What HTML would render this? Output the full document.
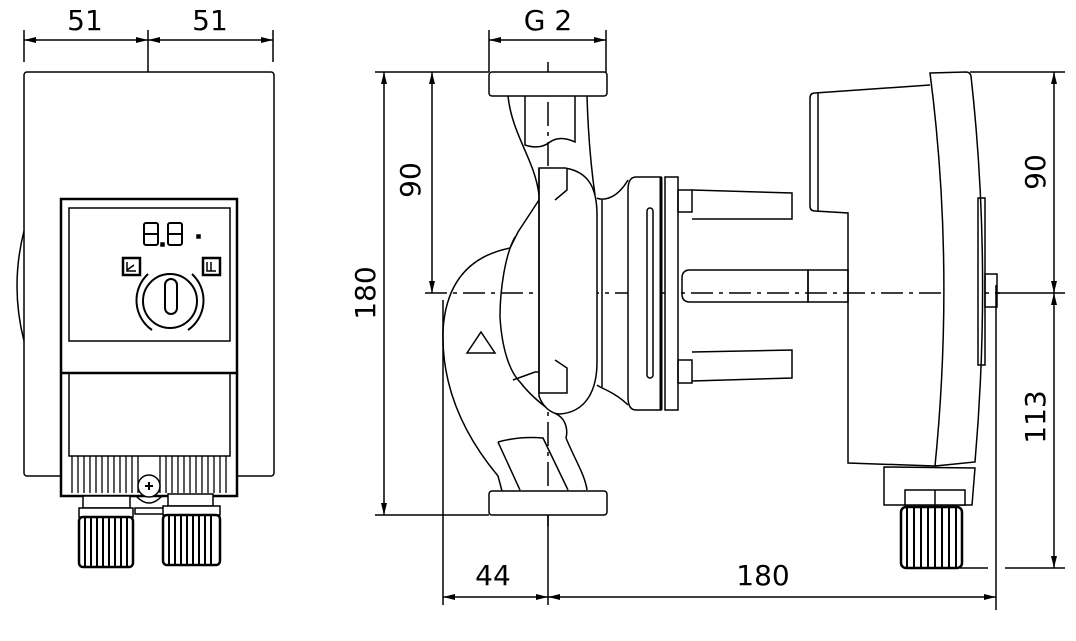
<!DOCTYPE html>
<html><head><meta charset="utf-8"><style>
html,body{margin:0;padding:0;background:#fff}
svg{display:block}
text{font-family:"DejaVu Sans","Liberation Sans",sans-serif;font-size:28px;fill:#000}
</style></head><body>
<svg width="1076" height="641" viewBox="0 0 1076 641" xmlns="http://www.w3.org/2000/svg">
<defs>
<marker id="a" viewBox="0 0 12 6" refX="12" refY="3" markerWidth="12" markerHeight="6" orient="auto-start-reverse" markerUnits="userSpaceOnUse"><path d="M0,0L12,3L0,6Z" fill="#000"/></marker>
</defs>
<g fill="none" stroke="#000" stroke-width="1.5">
<!-- LEFT VIEW -->
<line x1="24" y1="30" x2="24" y2="62"/><line x1="148" y1="30" x2="148" y2="72"/><line x1="273" y1="30" x2="273" y2="62"/>
<line x1="24" y1="40" x2="148" y2="40" marker-start="url(#a)" marker-end="url(#a)"/>
<line x1="148" y1="40" x2="273" y2="40" marker-start="url(#a)" marker-end="url(#a)"/>
<rect x="24" y="72" width="250" height="404" rx="3" fill="#fff"/>
<path d="M24,231 Q10,286 24,341"/>
<rect x="61" y="199" width="176" height="297" stroke-width="2.5" fill="#fff"/>
<rect x="69" y="208" width="161" height="133"/>
<line x1="61" y1="373" x2="237" y2="373" stroke-width="2.5"/>
<rect x="69" y="373" width="161" height="83"/>
<g stroke-width="1.3">
<path d="M72,456V493M78,456V493M84,456V493M90,456V493M96,456V493M102,456V493M108,456V493M114,456V493M120,456V493M126,456V493M132,456V493M138,456V493M160,456V493M166,456V493M172,456V493M178,456V493M184,456V493M190,456V493M196,456V493M202,456V493M208,456V493M214,456V493M220,456V493M226,456V493"/>
</g>
<circle cx="149" cy="486" r="11" fill="#fff"/>
<path d="M145,486h8M149,482v8" stroke-width="2"/>
<path d="M136,496 Q149,510 162,496"/>
<rect x="135" y="508" width="30" height="6"/>
<rect x="83" y="496" width="47" height="12" fill="#fff"/>
<rect x="79" y="508" width="54" height="9" fill="#fff"/>
<rect x="79" y="517" width="54" height="50" rx="4" fill="#fff" stroke-width="2.5"/>
<path d="M85,517V566M91,517V566M97,517V566M103,517V566M109,517V566M115,517V566M121,517V566M127,517V566" stroke-width="2"/>
<rect x="168" y="494" width="45" height="12" fill="#fff"/>
<rect x="163" y="506" width="57" height="9" fill="#fff"/>
<rect x="163" y="515" width="57" height="50" rx="4" fill="#fff" stroke-width="2.5"/>
<path d="M169,515V564M175,515V564M181,515V564M187,515V564M193,515V564M199,515V564M205,515V564M211,515V564" stroke-width="2"/>
<!-- digits -->
<g stroke-width="2">
<rect x="144" y="223" width="14" height="22" rx="2"/><line x1="144" y1="234" x2="158" y2="234"/>
<rect x="168" y="223" width="14" height="22" rx="2"/><line x1="168" y1="234" x2="182" y2="234"/>
</g>
<rect x="161" y="243" width="3" height="3" fill="#000"/><rect x="197" y="235" width="3" height="3" fill="#000"/>
<rect x="123" y="258" width="17" height="17" stroke-width="2.5"/><path d="M127,262v9h9M127,270l7,-5" stroke-width="1.5"/>
<rect x="203" y="258" width="17" height="17" stroke-width="2.5"/><path d="M207,262v9h9M211,262v9" stroke-width="1.5"/>
<circle cx="170" cy="301" r="27" stroke-width="2"/>
<rect x="165" y="279" width="12" height="35" rx="6" stroke-width="2"/>
<path d="M152,330 A36,36 0 0 1 148,274" stroke-width="2"/>
<path d="M188,330 A36,36 0 0 0 192,274" stroke-width="2"/>

<!-- RIGHT VIEW dimensions -->
<line x1="489" y1="30" x2="489" y2="72"/><line x1="606" y1="30" x2="606" y2="72"/>
<line x1="489" y1="40" x2="606" y2="40" marker-start="url(#a)" marker-end="url(#a)"/>
<line x1="375" y1="72" x2="489" y2="72"/><line x1="375" y1="515" x2="489" y2="515"/>
<line x1="384" y1="72" x2="384" y2="515" marker-start="url(#a)" marker-end="url(#a)"/>
<line x1="432" y1="72" x2="432" y2="293" marker-start="url(#a)" marker-end="url(#a)"/>
<line x1="443" y1="300" x2="443" y2="605"/><line x1="996" y1="285" x2="996" y2="610"/>
<line x1="548" y1="515" x2="548" y2="605"/>
<line x1="443" y1="597" x2="548" y2="597" marker-start="url(#a)" marker-end="url(#a)"/>
<line x1="548" y1="597" x2="996" y2="597" marker-start="url(#a)" marker-end="url(#a)"/>
<line x1="970" y1="72" x2="1065" y2="72"/>
<line x1="960" y1="568" x2="988" y2="568"/><line x1="1005" y1="568" x2="1065" y2="568"/>
<line x1="997" y1="293" x2="1065" y2="293"/>
<line x1="1054" y1="72" x2="1054" y2="293" marker-start="url(#a)" marker-end="url(#a)"/>
<line x1="1054" y1="293" x2="1054" y2="568" marker-start="url(#a)" marker-end="url(#a)"/>
<line x1="425" y1="293" x2="1000" y2="293" stroke-dasharray="22,6,4,6"/>
<line x1="548" y1="62" x2="548" y2="530" stroke-dasharray="24,6,4,6"/>

<!-- pump housing -->
<path d="M508,96 C512,135 535,160 539,195"/>
<path d="M587,96 C588,130 590,160 595,195"/>
<path d="M525,96 V145 Q540,150 550,142 Q560,135 575,142 V96"/>
<path d="M539,200 L518,232 L510,248 C470,256 446,282 443,330 C441,392 468,440 498,476 L502,491"/>
<path d="M515,237 C505,255 500,290 500,317 C502,350 510,372 520,382 C530,395 545,408 558,415 C566,420 568,430 566,438"/>
<path d="M498,442 L520,490"/><path d="M498,442 Q520,436 543,438 L568,490"/>
<path d="M566,438 C575,460 585,475 587,490"/>
<path d="M513,380 L535,372 L539,372"/>
<path d="M467,353 L495,353 L481,332 Z"/>
<path d="M539,168 H565 C590,172 597,190 597,215 V362 C597,392 585,412 560,414 C550,414 542,405 539,396 Z" fill="#fff"/>
<path d="M539,168 V393 H567 V368 L555,360"/>
<path d="M567,168 V190 L555,200"/>
<path d="M597,198 C600,200 615,202 628,180"/>
<path d="M597,385 C600,388 615,392 628,405"/>
<line x1="602" y1="200" x2="602" y2="387"/>
<rect x="489" y="72" width="118" height="24" rx="3" fill="#fff"/>
<rect x="489" y="491" width="118" height="24" rx="3" fill="#fff"/>
<path d="M661,177 H636 Q628,177 628,190 V397 Q628,410 636,410 H661 Z" fill="#fff"/>
<line x1="661" y1="177" x2="661" y2="410" stroke-width="3"/>
<rect x="647" y="208" width="6" height="170" rx="3"/>
<rect x="665" y="177" width="13" height="233" fill="#fff"/>

<!-- motor -->
<rect x="678" y="190" width="14" height="22"/><path d="M692,190 L792,193 V219 H692"/>
<rect x="678" y="360" width="14" height="23"/><path d="M692,352 L792,350 V378 L692,381"/>
<path d="M690,270 H808 V302 H690 Q682,302 682,294 V278 Q682,270 690,270 Z"/>
<rect x="808" y="270" width="40" height="32"/>
<path d="M930,85 L815,93 Q810,93 810,98 V206 Q810,211 815,211 L848,213 V463 L935,466"/>
<line x1="818" y1="93" x2="818" y2="211"/>
<path d="M930,73 L966,72 Q970,72 971,76 Q992,265 975,462 L935,466 Q955,265 930,73 Z" fill="#fff"/>
<rect x="978" y="198" width="7" height="167"/>
<rect x="985" y="274" width="12" height="33"/>
<path d="M884,467 L975,468 L972,505 H884 Z" fill="#fff"/>
<rect x="905" y="490" width="60" height="15" fill="#fff"/>
<line x1="935" y1="490" x2="935" y2="505"/>
<rect x="901" y="507" width="61" height="61" rx="5" fill="#fff" stroke-width="2.5"/>
<path d="M907,507V567M914,507V567M921,507V567M928,507V567M935,507V567M942,507V567M949,507V567M956,507V567" stroke-width="2"/>
</g>
<text x="85" y="30" text-anchor="middle">51</text>
<text x="210" y="30" text-anchor="middle">51</text>
<text x="548" y="30" text-anchor="middle">G 2</text>
<text x="493" y="585" text-anchor="middle">44</text>
<text x="763" y="585" text-anchor="middle">180</text>
<text transform="translate(375,293) rotate(-90)" text-anchor="middle">180</text>
<text transform="translate(420,180) rotate(-90)" text-anchor="middle">90</text>
<text transform="translate(1045,172) rotate(-90)" text-anchor="middle">90</text>
<text transform="translate(1045,417) rotate(-90)" text-anchor="middle">113</text>
</svg>
</body></html>
